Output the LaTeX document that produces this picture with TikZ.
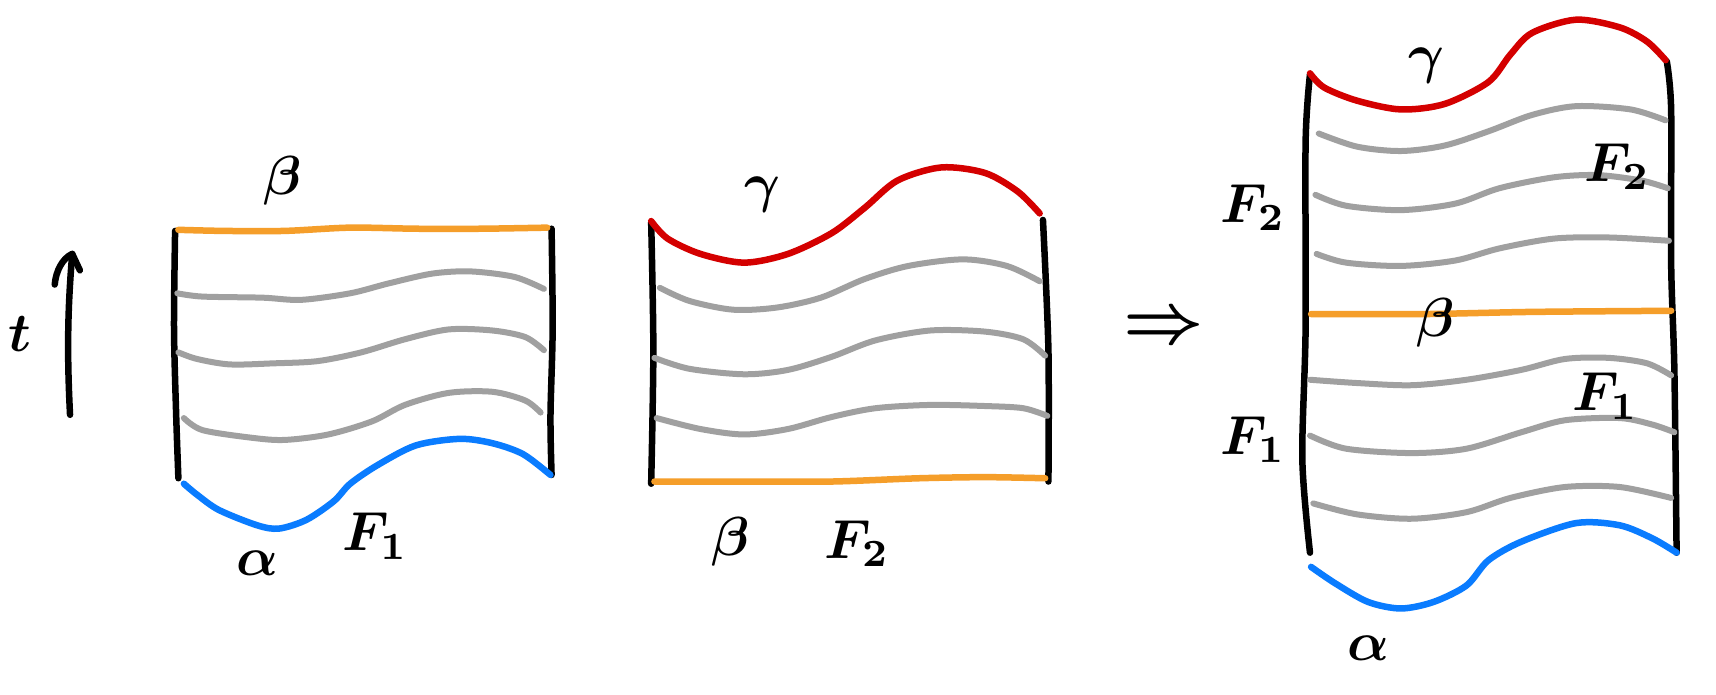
\documentclass[tikz,border=0pt]{standalone}
\usepackage{graphicx}
\usepackage{amsmath}
\definecolor{cgray}{HTML}{A0A0A0}
\definecolor{corange}{HTML}{F59E2A}
\definecolor{cred}{HTML}{D40000}
\definecolor{cblue}{HTML}{0A7CFF}
\newcommand{\biglab}[1]{\scalebox{5.5}{\boldmath$#1$}}
\tikzset{
  pen/.style={line width=6.5pt, line cap=round, line join=round},
  edge/.style={pen, black},
  leaf/.style={pen, cgray, line width=6pt},
  bcurve/.style={pen, corange},
  gcurve/.style={pen, cred},
  acurve/.style={pen, cblue},
  lab/.style={inner sep=0pt},
}
\begin{document}
\begin{tikzpicture}[x=1.0944pt, y=-1.0944pt]
\useasboundingbox (0,0) rectangle (1568,635);
\fill[white] (0,0) rectangle (1568,635);

% ---------- time arrow ----------
\draw[edge] (64,379) .. controls (61,320) and (62,280) .. (66,232);
\draw[edge] (50,260) .. controls (51,248) and (57,236) .. (66,232) -- (73,247);
\node[lab] (t) at (18,305) {\biglab{t}};

% ---------- panel F1 ----------
\draw[edge] plot[smooth] coordinates {(160,211) (159,300) (161,380) (163,437)};
\draw[edge] plot[smooth] coordinates {(504,209) (505,300) (503,380) (504,434)};
\draw[bcurve] plot[smooth] coordinates {(163,210) (205,211) (260,211) (320,208) (380,209) (440,209) (500,208)};
\draw[leaf] plot[smooth] coordinates {(162,268) (185,271) (240,272) (275,274) (320,268) (355,259) (395,250) (430,248) (470,253) (497,264)};
\draw[leaf] plot[smooth] coordinates {(163,322) (180,328) (210,333) (250,332) (290,330) (330,322) (370,310) (410,301) (450,302) (480,308) (497,320)};
\draw[leaf] plot[smooth] coordinates {(168,382) (185,393) (230,400) (260,402) (300,397) (340,385) (370,370) (410,359) (450,358) (480,366) (494,377)};
\draw[acurve] plot[smooth] coordinates {(168,442) (180,452) (200,466) (235,480) (255,483) (280,475) (305,458) (320,442) (345,425) (380,407) (420,401) (450,405) (478,415) (503,434)};
\node[lab] (b1) at (258,165) {\biglab{\beta}};
\node[lab] (a1) at (235,515) {\biglab{\alpha}};
\node[lab] (F1a) at (343,490) {\biglab{F_1}};

% ---------- panel F2 ----------
\draw[edge] plot[smooth] coordinates {(595,203) (597,320) (595,442)};
\draw[edge] plot[smooth] coordinates {(953,201) (958,320) (958,440)};
\draw[gcurve] plot[smooth] coordinates {(595,202) (610,218) (640,232) (680,240) (720,232) (760,213) (790,190) (820,165) (860,153) (900,158) (930,175) (950,195)};
\draw[leaf] plot[smooth] coordinates {(603,263) (630,275) (670,283) (710,281) (750,272) (790,255) (830,243) (880,237) (920,243) (950,257)};
\draw[leaf] plot[smooth] coordinates {(598,327) (630,337) (680,342) (720,338) (760,326) (800,311) (850,302) (900,303) (935,310) (955,325)};
\draw[leaf] plot[smooth] coordinates {(600,382) (640,392) (680,397) (720,392) (760,381) (800,373) (850,370) (900,371) (935,373) (957,380)};
\draw[bcurve] plot[smooth] coordinates {(598,440) (680,440) (760,440) (840,437) (900,436) (955,437)};
\node[lab] (g2) at (697,178) {\biglab{\gamma}};
\node[lab] (b2) at (668,495) {\biglab{\beta}};
\node[lab] (F2a) at (783,497) {\biglab{F_2}};

% ---------- implication ----------
\node[lab] (impl) at (1063,300) {\scalebox{7}{\boldmath$\Rightarrow$}};

% ---------- glued panel ----------
\draw[edge] plot[smooth] coordinates {(1197,68) (1193,130) (1193,300) (1190,420) (1197,505)};
\draw[edge] plot[smooth] coordinates {(1523,56) (1527,100) (1527,240) (1530,340) (1532,505)};
\draw[gcurve] plot[smooth] coordinates {(1197,67) (1210,80) (1240,92) (1280,100) (1320,95) (1360,75) (1380,50) (1400,30) (1440,18) (1480,25) (1505,38) (1522,55)};
\draw[leaf] plot[smooth] coordinates {(1205,122) (1240,134) (1280,138) (1320,133) (1360,120) (1400,105) (1440,97) (1490,100) (1522,110)};
\draw[leaf] plot[smooth] coordinates {(1202,178) (1230,188) (1280,192) (1330,186) (1370,172) (1420,162) (1460,160) (1500,165) (1524,172)};
\draw[leaf] plot[smooth] coordinates {(1203,232) (1230,240) (1280,243) (1330,238) (1370,227) (1420,218) (1470,217) (1525,220)};
\draw[bcurve] plot[smooth] coordinates {(1198,287) (1300,287) (1400,285) (1527,284)};
\draw[leaf] plot[smooth] coordinates {(1197,347) (1240,350) (1290,352) (1340,347) (1390,338) (1430,328) (1470,327) (1505,332) (1527,343)};
\draw[leaf] plot[smooth] coordinates {(1197,398) (1230,410) (1290,414) (1340,410) (1390,395) (1430,384) (1480,382) (1510,388) (1530,395)};
\draw[leaf] plot[smooth] coordinates {(1200,460) (1240,470) (1290,474) (1340,468) (1380,455) (1430,445) (1480,445) (1527,455)};
\draw[acurve] plot[smooth] coordinates {(1198,518) (1220,533) (1250,550) (1280,556) (1310,550) (1340,535) (1360,512) (1390,495) (1440,478) (1480,480) (1510,492) (1532,505)};
\node[lab] (g3) at (1303,60) {\biglab{\gamma}};
\node[lab] (F2r) at (1478,152) {\biglab{F_2}};
\node[lab] (F2l) at (1145,190) {\biglab{F_2}};
\node[lab] (b3) at (1312,295) {\biglab{\beta}};
\node[lab] (F1r) at (1467,362) {\biglab{F_1}};
\node[lab] (F1l) at (1145,402) {\biglab{F_1}};
\node[lab] (a3) at (1250,592) {\biglab{\alpha}};
\end{tikzpicture}
\end{document}
